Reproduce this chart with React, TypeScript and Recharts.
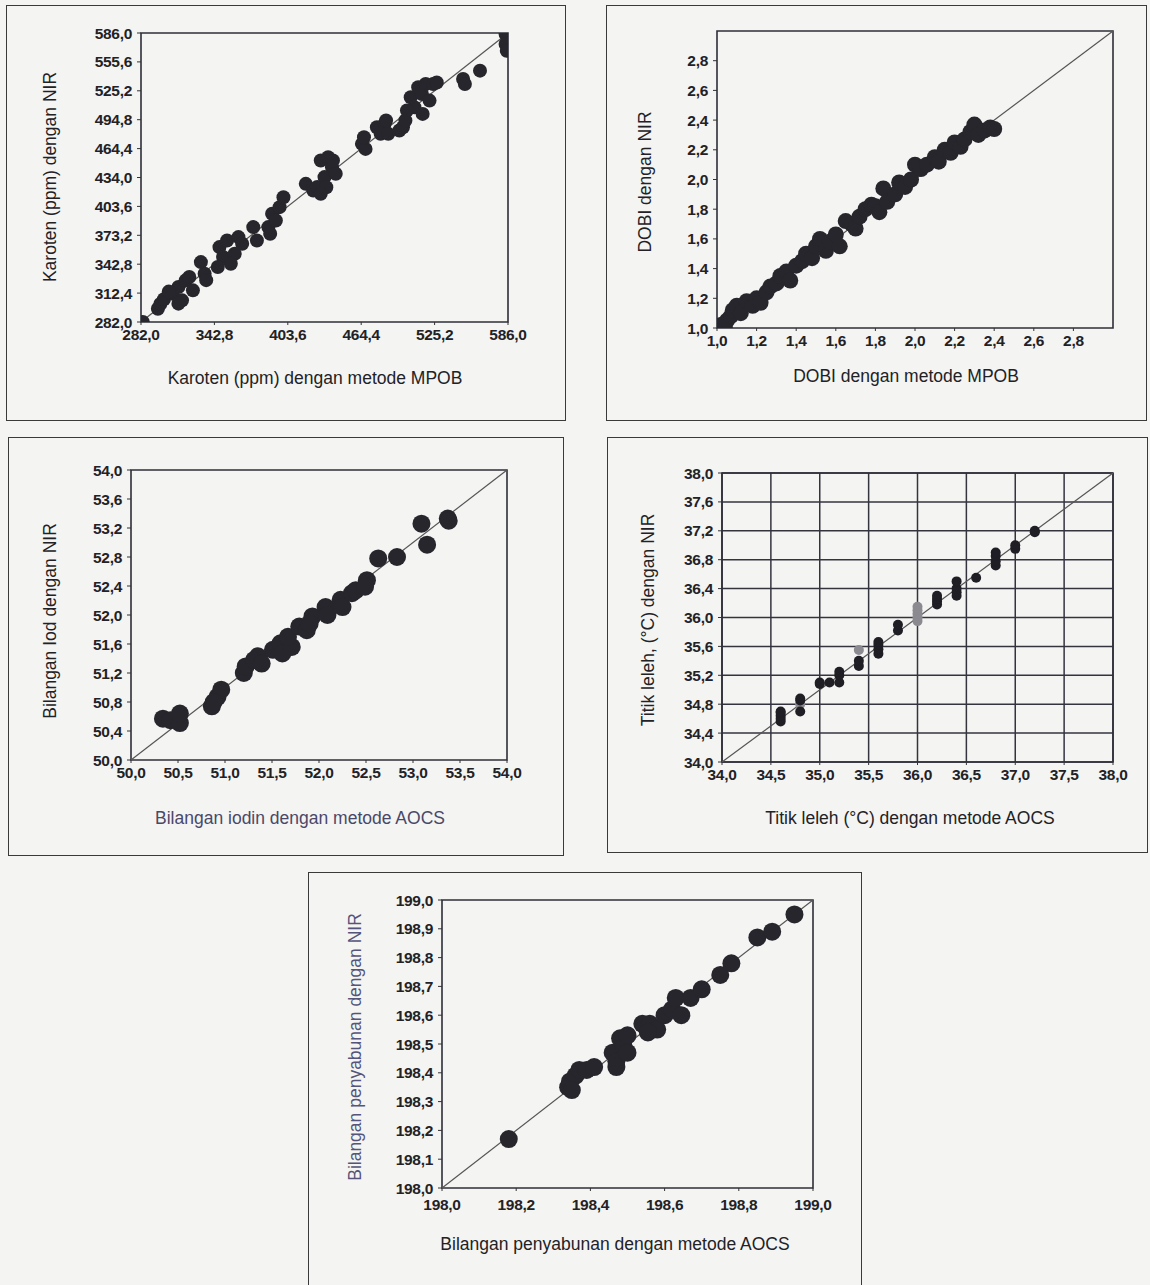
import { ScatterChart, Scatter, XAxis, YAxis, ReferenceLine, ReferenceArea, CartesianGrid } from "recharts";

// ---- Karoten (ppm): MPOB vs NIR ----
const karotenTicksY = [282, 312.4, 342.8, 373.2, 403.6, 434, 464.4, 494.8, 525.2, 555.6, 586];
const karotenTicksX = [282, 342.8, 403.6, 464.4, 525.2, 586];
const karotenMpob = [283.5, 296, 298, 301, 308, 313, 316, 319, 322, 325, 313, 305, 331.6, 334.7, 336, 347, 350, 353.3, 359.6, 362.7, 356.4, 365.8, 345.6, 375, 378, 387.5, 390.6, 393.7, 396.8, 400, 389, 418.5, 424.7, 428, 430.9, 437, 440.2, 434, 443.3, 435.5, 430.9, 441, 465, 468, 466.7, 477.4, 483.7, 480.5, 486.8, 485, 496, 499, 501, 505.4, 508.5, 511.6, 514.7, 517.8, 521, 515.3, 502.3, 524, 527, 548.8, 550.3, 562.8, 584, 584, 585];
const karotenNir = [282, 296, 301, 306, 311.8, 318.8, 304.8, 325.8, 329.3, 315.3, 301.3, 314, 345, 332.8, 326, 360.8, 350.3, 367.8, 353.8, 371.3, 343.3, 364.3, 339.8, 381.8, 367.8, 381.8, 395.8, 388.8, 402.8, 413.3, 374.8, 427.3, 420.3, 424, 451.9, 455.4, 444.9, 434.4, 437.9, 423.8, 416.8, 452, 469.4, 464.1, 476.4, 486.9, 490.4, 479.9, 479.9, 493.9, 483.4, 486.9, 494, 518.4, 507.9, 528.9, 521.9, 532.4, 514.9, 500.9, 504.4, 532.4, 534, 537.6, 532.4, 546.4, 585, 574.4, 567.4];

// ---- DOBI ----
const dobiTicks = [1.0, 1.2, 1.4, 1.6, 1.8, 2.0, 2.2, 2.4, 2.6, 2.8];
const dobiMpob = [1.02, 1.04, 1.05, 1.07, 1.08, 1.1, 1.12, 1.15, 1.18, 1.2, 1.22, 1.25, 1.27, 1.3, 1.32, 1.35, 1.37, 1.4, 1.43, 1.45, 1.48, 1.5, 1.52, 1.55, 1.57, 1.6, 1.62, 1.65, 1.68, 1.7, 1.72, 1.75, 1.78, 1.8, 1.82, 1.84, 1.86, 1.9, 1.92, 1.95, 1.98, 2.0, 2.03, 2.06, 2.1, 2.12, 2.15, 2.18, 2.2, 2.23, 2.25, 2.28, 2.3, 2.32, 2.35, 2.38, 2.4];
const dobiNir = [1.02, 1.0, 1.05, 1.08, 1.12, 1.15, 1.1, 1.18, 1.15, 1.2, 1.17, 1.24, 1.28, 1.3, 1.35, 1.38, 1.32, 1.42, 1.45, 1.5, 1.47, 1.55, 1.6, 1.52, 1.58, 1.63, 1.55, 1.72, 1.7, 1.67, 1.75, 1.8, 1.83, 1.82, 1.78, 1.94, 1.85, 1.9, 1.98, 1.95, 2.0, 2.1, 2.07, 2.1, 2.15, 2.12, 2.2, 2.18, 2.25, 2.22, 2.27, 2.32, 2.37, 2.3, 2.33, 2.35, 2.34];

// ---- Bilangan iod ----
const iodTicksY = [50.0, 50.4, 50.8, 51.2, 51.6, 52.0, 52.4, 52.8, 53.2, 53.6, 54.0];
const iodTicksX = [50.0, 50.5, 51.0, 51.5, 52.0, 52.5, 53.0, 53.5, 54.0];
const iodAocs = [50.34, 50.42, 50.52, 50.52, 50.86, 50.92, 50.96, 50.88, 51.2, 51.22, 51.31, 51.35, 51.39, 51.51, 51.59, 51.61, 51.71, 51.67, 51.79, 51.87, 51.93, 51.9, 52.07, 52.09, 52.23, 52.25, 52.35, 52.39, 52.51, 52.49, 52.63, 52.83, 53.09, 53.15, 53.37, 53.38];
const iodNir = [50.57, 50.55, 50.51, 50.64, 50.74, 50.87, 50.97, 50.8, 51.2, 51.29, 51.38, 51.43, 51.33, 51.52, 51.61, 51.47, 51.56, 51.7, 51.84, 51.79, 51.98, 51.88, 52.11, 52.0, 52.21, 52.11, 52.3, 52.34, 52.48, 52.39, 52.78, 52.8, 53.26, 52.97, 53.33, 53.3];

// ---- Titik leleh ----
const lelehTicksY = [34.0, 34.4, 34.8, 35.2, 35.6, 36.0, 36.4, 36.8, 37.2, 37.6, 38.0];
const lelehTicksX = [34.0, 34.5, 35.0, 35.5, 36.0, 36.5, 37.0, 37.5, 38.0];
const lelehAocs = [34.6, 34.6, 34.6, 34.6, 34.6, 34.8, 34.8, 34.8, 35.0, 35.0, 35.1, 35.2, 35.2, 35.2, 35.4, 35.4, 35.6, 35.6, 35.6, 35.6, 35.8, 35.8, 36.2, 36.2, 36.2, 36.2, 36.4, 36.4, 36.4, 36.4, 36.6, 36.8, 36.8, 36.8, 36.8, 37.0, 37.0, 37.2, 37.2];
const lelehNir = [34.56, 34.6, 34.64, 34.68, 34.7, 34.7, 34.85, 34.88, 35.08, 35.1, 35.1, 35.1, 35.2, 35.25, 35.33, 35.4, 35.5, 35.56, 35.62, 35.66, 35.82, 35.9, 36.18, 36.22, 36.26, 36.3, 36.3, 36.35, 36.4, 36.5, 36.55, 36.72, 36.78, 36.85, 36.9, 36.95, 37.0, 37.18, 37.2];
const lelehAocsGray = [34.8, 35.4, 36.0, 36.0, 36.0, 36.0, 36.0];
const lelehNirGray = [34.8, 35.55, 35.95, 36.0, 36.05, 36.1, 36.15];

// ---- Bilangan penyabunan ----
const sabunTicksY = [198.0, 198.1, 198.2, 198.3, 198.4, 198.5, 198.6, 198.7, 198.8, 198.9, 199.0];
const sabunTicksX = [198.0, 198.2, 198.4, 198.6, 198.8, 199.0];
const sabunAocs = [198.18, 198.34, 198.345, 198.36, 198.37, 198.39, 198.41, 198.35, 198.46, 198.47, 198.48, 198.49, 198.5, 198.5, 198.47, 198.54, 198.56, 198.58, 198.555, 198.6, 198.62, 198.63, 198.645, 198.67, 198.7, 198.75, 198.78, 198.85, 198.89, 198.95];
const sabunNir = [198.17, 198.35, 198.37, 198.39, 198.41, 198.41, 198.42, 198.34, 198.47, 198.44, 198.52, 198.49, 198.53, 198.47, 198.42, 198.57, 198.57, 198.55, 198.54, 198.6, 198.62, 198.66, 198.6, 198.66, 198.69, 198.74, 198.78, 198.87, 198.89, 198.95];

const zip = (xs: number[], ys: number[]) => xs.map((x, i) => ({ x, y: ys[i] }));
const fmt = (v: number) => v.toFixed(1).replace(".", ",");

const FONT = "'Liberation Sans', Arial, sans-serif";
const INK = "#222226";

type Box = { left: number; top: number; right: number; bottom: number };
type Series = { points: { x: number; y: number }[]; color: string; r: number };

interface PanelProps {
  frame: Box;
  plot: Box;
  xDomain: [number, number];
  yDomain: [number, number];
  xTicks: number[];
  yTicks: number[];
  series: Series[];
  xTitle: string;
  yTitle: string;
  xTitleAt: [number, number];
  yTitleAt: [number, number];
  xTitleColor?: string;
  yTitleColor?: string;
  xTickGap?: number;
  grid?: boolean;
}

const YW = 74;

function Panel(p: PanelProps) {
  const w = p.plot.right - p.plot.left;
  const h = p.plot.bottom - p.plot.top;
  const tick = { fill: INK, fontSize: 15.5, fontWeight: 700, fontFamily: FONT, letterSpacing: -0.3 };
  const title = { position: "absolute" as const, whiteSpace: "nowrap" as const, fontFamily: FONT, fontSize: 17.5 };
  return (
    <>
      <div
        style={{
          position: "absolute",
          left: p.frame.left,
          top: p.frame.top,
          width: p.frame.right - p.frame.left,
          height: p.frame.bottom - p.frame.top,
          border: "1.5px solid #3a3a3a",
          boxSizing: "border-box",
        }}
      />
      <div style={{ position: "absolute", left: p.plot.left - YW, top: p.plot.top - 10 }}>
        <ScatterChart width={w + YW + 20} height={h + 44} margin={{ top: 10, right: 20, bottom: 0, left: 0 }}>
          {p.grid && <CartesianGrid stroke="#34343f" strokeWidth={1.5} />}
          <XAxis
            type="number"
            dataKey="x"
            domain={p.xDomain}
            ticks={p.xTicks}
            allowDataOverflow
            height={34}
            tick={tick}
            tickFormatter={fmt}
            axisLine={false}
            tickLine={{ stroke: "#333" }}
            tickSize={3}
            tickMargin={p.xTickGap ?? 4}
            interval={0}
          />
          <YAxis
            type="number"
            dataKey="y"
            domain={p.yDomain}
            ticks={p.yTicks}
            allowDataOverflow
            width={YW}
            tick={tick}
            tickFormatter={fmt}
            axisLine={false}
            tickLine={{ stroke: "#333" }}
            tickSize={4}
            tickMargin={5}
            interval={0}
          />
          <ReferenceArea
            x1={p.xDomain[0]}
            x2={p.xDomain[1]}
            y1={p.yDomain[0]}
            y2={p.yDomain[1]}
            fill="none"
            stroke="#2e2e38"
            strokeWidth={1.6}
            ifOverflow="visible"
          />
          <ReferenceLine
            segment={[
              { x: p.xDomain[0], y: p.yDomain[0] },
              { x: p.xDomain[1], y: p.yDomain[1] },
            ]}
            stroke="#555"
            strokeWidth={1.2}
            ifOverflow="visible"
          />
          {p.series.map((s, i) => (
            <Scatter
              key={i}
              data={s.points}
              isAnimationActive={false}
              shape={(sp: any) => <circle cx={sp.cx} cy={sp.cy} r={s.r} fill={s.color} />}
            />
          ))}
        </ScatterChart>
      </div>
      <div
        style={{
          ...title,
          left: p.xTitleAt[0],
          top: p.xTitleAt[1],
          transform: "translate(-50%, -50%)",
          color: p.xTitleColor ?? INK,
        }}
      >
        {p.xTitle}
      </div>
      <div
        style={{
          ...title,
          left: p.yTitleAt[0],
          top: p.yTitleAt[1],
          transform: "translate(-50%, -50%) rotate(-90deg)",
          color: p.yTitleColor ?? INK,
        }}
      >
        {p.yTitle}
      </div>
    </>
  );
}

export default function App() {
  return (
    <div
      style={{
        position: "absolute",
        left: 0,
        top: 0,
        width: 1150,
        height: 1285,
        background: "#f4f4f3",
        overflow: "hidden",
      }}
    >
      <Panel
        frame={{ left: 6, top: 5, right: 566, bottom: 421 }}
        plot={{ left: 141, top: 33, right: 508, bottom: 322 }}
        xDomain={[282, 586]}
        yDomain={[282, 586]}
        xTicks={karotenTicksX}
        yTicks={karotenTicksY}
        series={[{ points: zip(karotenMpob, karotenNir), color: "#26262c", r: 7 }]}
        xTitle="Karoten (ppm) dengan metode MPOB"
        yTitle="Karoten (ppm) dengan NIR"
        xTitleAt={[315, 378]}
        yTitleAt={[50, 177]}
      />
      <Panel
        frame={{ left: 606, top: 5, right: 1147, bottom: 421 }}
        plot={{ left: 717, top: 31, right: 1113, bottom: 328 }}
        xDomain={[1, 3]}
        yDomain={[1, 3]}
        xTicks={dobiTicks}
        yTicks={dobiTicks}
        series={[{ points: zip(dobiMpob, dobiNir), color: "#26262c", r: 8 }]}
        xTitle="DOBI dengan metode MPOB"
        yTitle="DOBI dengan NIR"
        xTitleAt={[906, 376]}
        yTitleAt={[645, 182]}
      />
      <Panel
        frame={{ left: 8, top: 437, right: 564, bottom: 856 }}
        plot={{ left: 131, top: 470, right: 507, bottom: 760 }}
        xDomain={[50, 54]}
        yDomain={[50, 54]}
        xTicks={iodTicksX}
        yTicks={iodTicksY}
        series={[{ points: zip(iodAocs, iodNir), color: "#26262c", r: 9 }]}
        xTitle="Bilangan iodin dengan metode AOCS"
        yTitle="Bilangan Iod dengan NIR"
        xTitleAt={[300, 818]}
        yTitleAt={[50, 621]}
        xTitleColor="#4a4868"
      />
      <Panel
        frame={{ left: 607, top: 437, right: 1148, bottom: 853 }}
        plot={{ left: 722, top: 473, right: 1113, bottom: 762 }}
        xDomain={[34, 38]}
        yDomain={[34, 38]}
        xTicks={lelehTicksX}
        yTicks={lelehTicksY}
        grid
        series={[
          { points: zip(lelehAocsGray, lelehNirGray), color: "#8a8a90", r: 5 },
          { points: zip(lelehAocs, lelehNir), color: "#1e1e24", r: 5 },
        ]}
        xTitle="Titik leleh (°C) dengan metode AOCS"
        yTitle="Titik leleh, (°C) dengan NIR"
        xTitleAt={[910, 818]}
        yTitleAt={[648, 620]}
      />
      <Panel
        frame={{ left: 308, top: 872, right: 862, bottom: 1295 }}
        plot={{ left: 442, top: 900, right: 813, bottom: 1188 }}
        xDomain={[198, 199]}
        yDomain={[198, 199]}
        xTicks={sabunTicksX}
        yTicks={sabunTicksY}
        xTickGap={8}
        series={[{ points: zip(sabunAocs, sabunNir), color: "#26262c", r: 9 }]}
        xTitle="Bilangan penyabunan dengan metode AOCS"
        yTitle="Bilangan penyabunan dengan NIR"
        xTitleAt={[615, 1244]}
        yTitleAt={[355, 1047]}
        yTitleColor="#55547a"
      />
    </div>
  );
}
